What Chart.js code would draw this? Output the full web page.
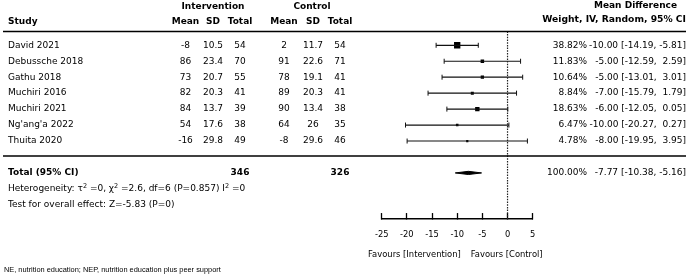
<!DOCTYPE html>
<html><head><meta charset="utf-8">
<script src="https://cdn.jsdelivr.net/npm/chart.js@4"></script>
<style>html,body{margin:0;padding:0;background:#fff}canvas{display:block}</style>
</head><body>
<canvas id="c" width="690" height="279"></canvas>
<script>
/* Forest plot — mean difference, IV, random effects. Table text drawn by a plugin,
   marks (CI bars, squares, diamond, axis) drawn by Chart.js on a linear x / row-index y. */
const studies = ["David 2021", "Debussche 2018", "Gathu 2018", "Muchiri 2016", "Muchiri 2021", "Ng'ang'a 2022", "Thuita 2020"];
const intMean = [-8, 86, 73, 82, 84, 54, -16];
const intSD   = [10.5, 23.4, 20.7, 20.3, 13.7, 17.6, 29.8];
const intN    = [54, 70, 55, 41, 39, 38, 49];
const ctlMean = [2, 91, 78, 89, 90, 64, -8];
const ctlSD   = [11.7, 22.6, 19.1, 20.3, 13.4, 26, 29.6];
const ctlN    = [54, 71, 41, 41, 38, 35, 46];
const weights = [38.82, 11.83, 10.64, 8.84, 18.63, 6.47, 4.78];
const md      = [-10, -5, -5, -7, -6, -10, -8];
const ciLow   = [-14.19, -12.59, -13.01, -15.79, -12.05, -20.27, -19.95];
const ciHigh  = [-5.81, 2.59, 3.01, 1.79, 0.05, 0.27, 3.95];
const totalInt = 346, totalCtl = 326;
const pooledMD = -7.77, pooledLow = -10.38, pooledHigh = -5.16;
const xTicks = [-25, -20, -15, -10, -5, 0, 5];
const hetParts = ["Heterogeneity: τ", "^2", " =0, χ", "^2", " =2.6, df=6 (P=0.857) I", "^2", " =0"];
const overallTxt = "Test for overall effect: Z=-5.83 (P=0)";
const footNote = "NE, nutrition education; NEP, nutrition education plus peer support";

const FONT = '"DejaVu Sans", Verdana, sans-serif';
const ink = "#000";
const ROW_TOP = -0.87, ROW_BOTTOM = 10.89;   // header rule .. axis line, in row units
const TOTAL_ROW = 8;
const COL = { study: 8, intMean: 185.5, intSD: 213, intN: 240, ctlMean: 284, ctlSD: 313, ctlN: 340, weight: 587, ci: 686 };

const fmtCI = (m, lo, hi) => `${m.toFixed(2)} [${lo.toFixed(2)}, ${hi.toFixed(2).padStart(5, " ")}]`;

const datasets = [];
// dotted line of no effect
datasets.push({ data: [{ x: 0, y: ROW_TOP }, { x: 0, y: ROW_BOTTOM }],
  borderColor: "#222", borderWidth: 1.2, borderDash: [1.5, 1.2], pointRadius: 0 });
// confidence intervals with end caps
studies.forEach((s, i) => datasets.push({
  data: [{ x: ciLow[i], y: i }, { x: ciHigh[i], y: i }],
  borderColor: "#111", borderWidth: 1.2,
  pointStyle: "line", pointRotation: 90, pointRadius: 2.5, pointBorderWidth: 1, pointBorderColor: "#111" }));
// weight-scaled squares
datasets.push({ data: md.map((v, i) => ({ x: v, y: i })), showLine: false,
  pointStyle: "rect", pointRadius: weights.map(w => 0.72 * Math.sqrt(w)),
  pointBackgroundColor: ink, pointBorderWidth: 0 });
// pooled diamond
const dh = 0.1;
datasets.push({ data: [{ x: pooledLow, y: TOTAL_ROW }, { x: pooledMD, y: TOTAL_ROW - dh },
  { x: pooledHigh, y: TOTAL_ROW }, { x: pooledMD, y: TOTAL_ROW + dh }, { x: pooledLow, y: TOTAL_ROW }],
  borderColor: ink, borderWidth: 1, backgroundColor: ink, fill: "shape", pointRadius: 0 });

const tablePlugin = {
  id: "forestTable",
  afterDraw(chart) {
    const { ctx, scales: { x, y } } = chart;
    const Y = r => y.getPixelForValue(r);
    ctx.save();
    ctx.fillStyle = ink; ctx.textBaseline = "middle";
    const txt = (s, px, py, align = "left", bold = false, size = 9, fam = FONT) => {
      ctx.font = `${bold ? "bold " : ""}${size}px ${fam}`; ctx.textAlign = align; ctx.fillText(s, px, py);
    };
    // header
    txt("Intervention", COL.intSD, Y(-2.45), "center", true);
    txt("Control", COL.ctlSD - 1, Y(-2.45), "center", true);
    txt("Mean Difference", 677, Y(-2.5), "right", true);
    const hy = Y(-1.5);
    txt("Study", COL.study, hy, "left", true);
    [["Mean", COL.intMean], ["SD", COL.intSD], ["Total", COL.intN],
     ["Mean", COL.ctlMean], ["SD", COL.ctlSD], ["Total", COL.ctlN]].forEach(([s, cx]) => txt(s, cx, hy, "center", true));
    txt("Weight, IV, Random, 95% CI", COL.ci, Y(-1.58), "right", true, 9.2);
    // rules
    ctx.strokeStyle = ink; ctx.lineWidth = 1.5;
    [ROW_TOP, 6.94].forEach(r => { ctx.beginPath(); ctx.moveTo(3, Y(r)); ctx.lineTo(686, Y(r)); ctx.stroke(); });
    // study rows
    studies.forEach((s, i) => {
      const ry = Y(i);
      txt(s, COL.study, ry);
      txt(String(intMean[i]), COL.intMean, ry, "center");
      txt(String(intSD[i]), COL.intSD, ry, "center");
      txt(String(intN[i]), COL.intN, ry, "center");
      txt(String(ctlMean[i]), COL.ctlMean, ry, "center");
      txt(String(ctlSD[i]), COL.ctlSD, ry, "center");
      txt(String(ctlN[i]), COL.ctlN, ry, "center");
      txt(weights[i].toFixed(2) + "%", COL.weight, ry, "right");
      txt(fmtCI(md[i], ciLow[i], ciHigh[i]), COL.ci, ry, "right");
    });
    // total row
    const ty = Y(TOTAL_ROW);
    txt("Total (95% CI)", COL.study, ty, "left", true);
    txt(String(totalInt), COL.intN, ty, "center", true);
    txt(String(totalCtl), COL.ctlN, ty, "center", true);
    txt("100.00%", COL.weight, ty, "right");
    txt(fmtCI(pooledMD, pooledLow, pooledHigh), COL.ci, ty, "right");
    // heterogeneity with superscripts
    let cx = COL.study; const hty = Y(9);
    ctx.textAlign = "left";
    hetParts.forEach(p => {
      const sup = p.startsWith("^"), s = sup ? p.slice(1) : p;
      ctx.font = `${sup ? 6.5 : 9}px ${FONT}`;
      ctx.fillText(s, cx, sup ? hty - 3 : hty);
      cx += ctx.measureText(s).width;
    });
    txt(overallTxt, COL.study, Y(10));
    // favours labels
    const mid = x.getPixelForValue(-8.3);
    txt("Favours [Intervention]", mid - 5, Y(13.15), "right", false, 8.4);
    txt("Favours [Control]", mid + 5, Y(13.15), "left", false, 8.4);
    // footnote
    txt(footNote, 4, Y(14.1), "left", false, 7.4, '"Liberation Sans", Arial, sans-serif');
    ctx.restore();
  }
};

new Chart(document.getElementById("c"), {
  type: "line",
  data: { datasets },
  plugins: [tablePlugin],
  options: {
    responsive: false, animation: false, events: [],
    layout: { padding: { left: 381.7, right: 157.3, top: 31.4, bottom: 22 } },
    plugins: { legend: { display: false }, tooltip: { enabled: false } },
    scales: {
      x: { type: "linear", min: -25, max: 5,
        afterBuildTicks: s => { s.ticks = xTicks.map(v => ({ value: v })); },
        grid: { drawOnChartArea: false, drawTicks: true, tickLength: -6, tickColor: ink, tickWidth: 1.3 },
        border: { display: true, color: ink, width: 1.5 },
        ticks: { color: ink, font: { family: FONT, size: 8.3 }, padding: 17, maxRotation: 0, autoSkip: false } },
      y: { type: "linear", min: ROW_TOP, max: ROW_BOTTOM, reverse: true, display: false }
    }
  }
});
</script>
</body></html>
